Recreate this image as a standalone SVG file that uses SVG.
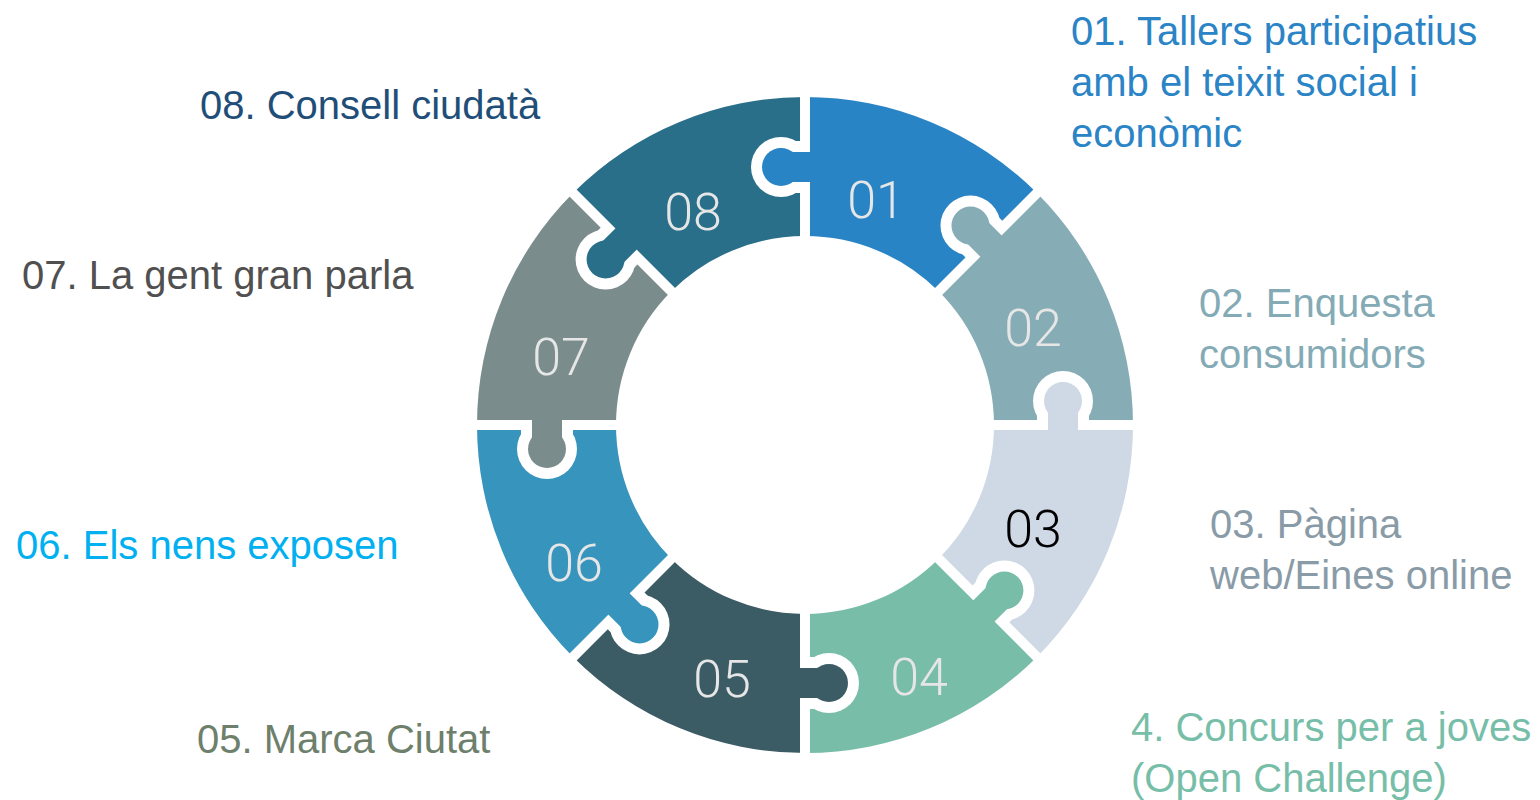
<svg xmlns="http://www.w3.org/2000/svg" width="1540" height="800" viewBox="0 0 1540 800">
<style>
.lbl{font-family:"Liberation Sans",Arial,sans-serif;font-size:40px}
.num{font-family:Roboto,"Noto Sans",sans-serif;font-weight:300;font-size:52px;text-anchor:middle;fill:#E6E6E6}
</style>
<defs>
<mask id="cut" maskUnits="userSpaceOnUse" x="-200" y="-200" width="2000" height="1200">
<rect x="-200" y="-200" width="2000" height="1200" fill="#fff"/>
<line x1="805" y1="80" x2="805" y2="250" stroke="#000" stroke-width="10"/>
<line x1="932.28" y1="297.72" x2="1045.42" y2="184.58" stroke="#000" stroke-width="10"/>
<g transform="rotate(45 805 425)" fill="#000">
<circle cx="781" cy="167" r="30"/>
<rect x="781" y="141" width="25" height="52" rx="6"/>
</g>
</mask>
<g id="piece">
<path d="M805,97 A328,328 0 0 1 1036.93,193.07 L938.64,291.36 A189,189 0 0 0 805,236 Z" mask="url(#cut)"/>
<circle cx="781" cy="167" r="19"/>
<rect x="785" y="152" width="28" height="30"/>
</g>
</defs>
<rect width="1540" height="800" fill="#fff"/>
<g id="node01">
<use href="#piece" fill="#2984C6"/>
<text class="num" x="876" y="218">01</text>
<text class="lbl" fill="#2A84C6"><tspan x="1071" y="45">01. Tallers participatius</tspan><tspan x="1071" y="96">amb el teixit social i</tspan><tspan x="1071" y="147">econòmic</tspan></text>
</g>
<g id="node02">
<use href="#piece" fill="#86ACB6" transform="rotate(45 805 425)"/>
<text class="num" x="1033" y="346">02</text>
<text class="lbl" fill="#84ABB5"><tspan x="1199" y="317">02. Enquesta</tspan><tspan x="1199" y="368">consumidors</tspan></text>
</g>
<g id="node03">
<use href="#piece" fill="#CED9E5" transform="rotate(90 805 425)"/>
<text class="num" x="1033" y="547" style="fill:#000">03</text>
<text class="lbl" fill="#8A9BA8"><tspan x="1210" y="538">03. Pàgina</tspan><tspan x="1210" y="589">web/Eines online</tspan></text>
</g>
<g id="node04">
<use href="#piece" fill="#77BDA7" transform="rotate(135 805 425)"/>
<text class="num" x="919" y="695">04</text>
<text class="lbl" fill="#77BEA8"><tspan x="1131" y="741">4. Concurs per a joves</tspan><tspan x="1131" y="792">(Open Challenge)</tspan></text>
</g>
<g id="node05">
<use href="#piece" fill="#3B5B65" transform="rotate(180 805 425)"/>
<text class="num" x="722" y="697">05</text>
<text class="lbl" fill="#6E7F6B" x="197" y="753">05. Marca Ciutat</text>
</g>
<g id="node06">
<use href="#piece" fill="#3794BC" transform="rotate(225 805 425)"/>
<text class="num" x="574" y="581">06</text>
<text class="lbl" fill="#00B0F0" x="16" y="559">06. Els nens exposen</text>
</g>
<g id="node07">
<use href="#piece" fill="#7B8C8D" transform="rotate(270 805 425)"/>
<text class="num" x="561" y="375">07</text>
<text class="lbl" fill="#505050" x="22" y="289">07. La gent gran parla</text>
</g>
<g id="node08">
<use href="#piece" fill="#296F8A" transform="rotate(315 805 425)"/>
<text class="num" x="693" y="230">08</text>
<text class="lbl" fill="#1F4E79" x="200" y="119">08. Consell ciudatà</text>
</g>
<g id="connectors"/>
</svg>
